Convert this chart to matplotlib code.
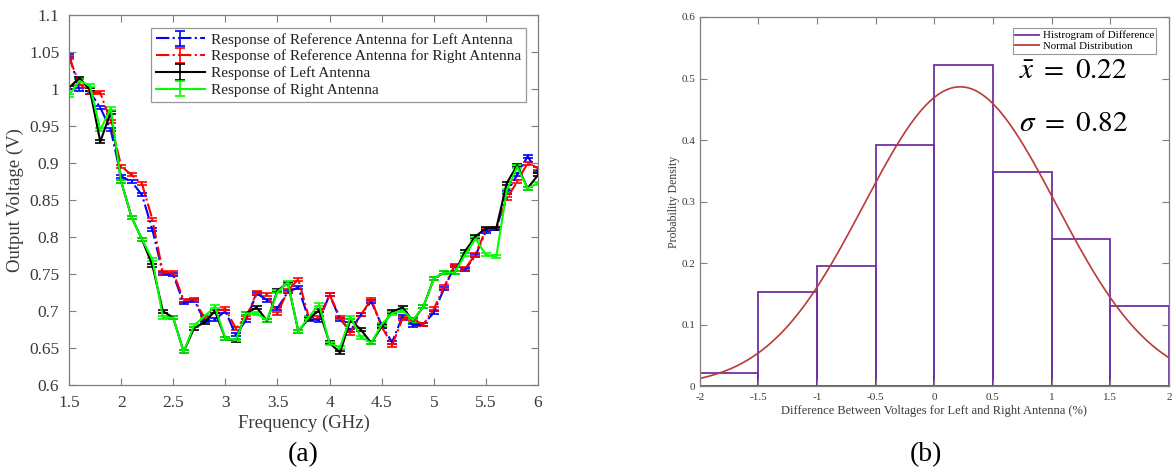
import numpy as np
import matplotlib
matplotlib.use("Agg")
import matplotlib.pyplot as plt
from matplotlib.lines import Line2D
from matplotlib.ticker import FixedLocator, FuncFormatter

# measured output voltage vs frequency (GHz)
freq = [1.5, 1.6, 1.7, 1.8, 1.9, 2.0, 2.1, 2.2, 2.3, 2.4, 2.5, 2.6, 2.7, 2.8, 2.9, 3.0,
        3.1, 3.2, 3.3, 3.4, 3.5, 3.6, 3.7, 3.8, 3.9, 4.0, 4.1, 4.2, 4.3, 4.4, 4.5, 4.6,
        4.7, 4.8, 4.9, 5.0, 5.1, 5.2, 5.3, 5.4, 5.5, 5.6, 5.7, 5.8, 5.9, 6.0]
ref_left = [1.046, 0.999, 0.996, 0.975, 0.945, 0.882, 0.875, 0.857, 0.810, 0.751, 0.749, 0.711,
            0.715, 0.687, 0.689, 0.700, 0.668, 0.688, 0.724, 0.715, 0.704, 0.726, 0.732, 0.689,
            0.688, 0.722, 0.689, 0.674, 0.695, 0.713, 0.681, 0.658, 0.693, 0.681, 0.682, 0.698,
            0.731, 0.761, 0.756, 0.775, 0.808, 0.811, 0.860, 0.884, 0.909, 0.888]
ref_right = [1.043, 1.007, 0.996, 0.995, 0.956, 0.896, 0.884, 0.872, 0.824, 0.752, 0.752, 0.715,
             0.716, 0.691, 0.700, 0.703, 0.677, 0.692, 0.725, 0.722, 0.697, 0.728, 0.743, 0.692,
             0.692, 0.722, 0.692, 0.670, 0.695, 0.716, 0.679, 0.654, 0.690, 0.689, 0.682, 0.703,
             0.733, 0.762, 0.757, 0.777, 0.810, 0.812, 0.852, 0.875, 0.900, 0.893]
left_ant = [1.002, 1.015, 0.999, 0.929, 0.969, 0.875, 0.827, 0.797, 0.762, 0.700, 0.691, 0.645,
            0.677, 0.685, 0.700, 0.663, 0.660, 0.697, 0.705, 0.687, 0.728, 0.738, 0.673, 0.690,
            0.701, 0.657, 0.644, 0.688, 0.675, 0.657, 0.679, 0.699, 0.705, 0.687, 0.706, 0.744,
            0.752, 0.752, 0.781, 0.801, 0.812, 0.812, 0.873, 0.897, 0.866, 0.884]
right_ant = [0.992, 1.011, 1.005, 0.945, 0.974, 0.875, 0.827, 0.797, 0.770, 0.692, 0.691, 0.645,
             0.681, 0.693, 0.706, 0.663, 0.661, 0.697, 0.697, 0.688, 0.726, 0.739, 0.673, 0.692,
             0.709, 0.656, 0.651, 0.692, 0.665, 0.657, 0.682, 0.697, 0.701, 0.688, 0.706, 0.744,
             0.752, 0.752, 0.776, 0.798, 0.776, 0.774, 0.863, 0.895, 0.866, 0.873]
err = 0.002

# histogram of left/right difference (%)
bin_edges = [-2.0, -1.5, -1.0, -0.5, 0.0, 0.5, 1.0, 1.5, 2.0]
bin_counts = [1, 7, 9, 18, 24, 16, 11, 6]
mean_diff = 0.22
std_diff = 0.82

serif = ["Liberation Serif", "DejaVu Serif"]
plt.rcParams["font.family"] = serif
plt.rcParams["xtick.direction"] = "in"
plt.rcParams["ytick.direction"] = "in"

gray = "#7f7f7f"
txt = "#3a3a3a"
hist_col = "#7030a0"
pdf_col = "#b83a3a"


def matlab_box(ax, size, xpad, ypad):
    for s in ax.spines.values():
        s.set_color(gray)
        s.set_linewidth(0.9)
    ax.tick_params(which="both", top=True, right=True, colors=gray,
                   labelcolor=txt, labelsize=size, length=5, width=0.8)
    ax.tick_params(axis="x", pad=xpad)
    ax.tick_params(axis="y", pad=ypad)
    ax.xaxis.set_major_formatter(FuncFormatter(lambda v, p: "%g" % v))
    ax.yaxis.set_major_formatter(FuncFormatter(lambda v, p: "%g" % v))


fig = plt.figure(figsize=(11.76, 4.72), dpi=100)

# (a) frequency response
ax1 = fig.add_axes([0.0587, 0.184, 0.3988, 0.784])
series = [
    (ref_left, "b", "-.", "Response of Reference Antenna for Left Antenna"),
    (ref_right, "r", "-.", "Response of Reference Antenna for Right Antenna"),
    (left_ant, "k", "-", "Response of Left Antenna"),
    (right_ant, "#00ff00", "-", "Response of Right Antenna"),
]
for vals, col, ls, lab in series:
    ax1.errorbar(freq, vals, yerr=err, color=col, linestyle=ls, linewidth=1.5,
                 capsize=3.5, elinewidth=1.2, capthick=1.2, label=lab)
ax1.set_xlim(1.5, 6)
ax1.set_ylim(0.6, 1.1)
ax1.xaxis.set_major_locator(FixedLocator(np.arange(1.5, 6.01, 0.5)))
ax1.yaxis.set_major_locator(FixedLocator(np.round(np.arange(0.6, 1.101, 0.05), 2)))
matlab_box(ax1, 12.5, 7, 7)
ax1.set_xlabel("Frequency (GHz)", fontsize=13.5, color=txt, labelpad=3)
ax1.set_ylabel("Output Voltage (V)", fontsize=13.5, color=txt, labelpad=4)
leg = ax1.legend(loc="upper right", bbox_to_anchor=(0.99, 0.985), fontsize=11,
                 frameon=True, fancybox=False, edgecolor=gray, handlelength=3.2,
                 borderpad=0.3, labelspacing=0.2, handletextpad=0.4)
leg.get_frame().set_linewidth(0.9)
for t in leg.get_texts():
    t.set_color("#222222")
fig.text(0.258, 0.036, "(a)", fontsize=20, ha="center", va="center")

# (b) distribution of the difference
ax2 = fig.add_axes([0.595, 0.182, 0.399, 0.782])
counts = np.array(bin_counts, dtype=float)
edges = np.array(bin_edges)
widths = np.diff(edges)
density = counts / (counts.sum() * widths)
ax2.bar(edges[:-1], density, width=widths, align="edge", fill=False,
        edgecolor=hist_col, linewidth=1.3)
xs = np.linspace(-2, 2, 300)
pdf = np.exp(-0.5 * ((xs - mean_diff) / std_diff) ** 2) / (std_diff * np.sqrt(2 * np.pi))
ax2.plot(xs, pdf, color=pdf_col, linewidth=1.2)
ax2.set_xlim(-2, 2)
ax2.set_ylim(0, 0.6)
ax2.xaxis.set_major_locator(FixedLocator(np.arange(-2, 2.01, 0.5)))
ax2.yaxis.set_major_locator(FixedLocator(np.round(np.arange(0, 0.61, 0.1), 1)))
matlab_box(ax2, 8, 5, 3)
ax2.set_xlabel("Difference Between Voltages for Left and Right Antenna (%)",
               fontsize=9, color=txt, labelpad=2)
ax2.set_ylabel("Probability Density", fontsize=8.5, color=txt, labelpad=1)
handles = [Line2D([], [], color=hist_col, linewidth=1.3),
           Line2D([], [], color=pdf_col, linewidth=1.3)]
leg2 = ax2.legend(handles, ["Histrogram of Difference", "Normal Distribution"],
                  loc="upper right", bbox_to_anchor=(0.985, 0.985), fontsize=7.8,
                  frameon=True, fancybox=False, edgecolor=gray, handlelength=2.2,
                  borderpad=0.25, labelspacing=0.1, handletextpad=0.3)
leg2.get_frame().set_linewidth(0.8)
ax2.text(0.68, 0.855, r"$\bar{x}\ =\ %.2f$" % mean_diff, transform=ax2.transAxes,
         fontsize=21, math_fontfamily="stix", va="center", ha="left")
ax2.text(0.68, 0.71, r"$\sigma\ =\ %.2f$" % std_diff, transform=ax2.transAxes,
         fontsize=21, math_fontfamily="stix", va="center", ha="left")
fig.text(0.787, 0.036, "(b)", fontsize=20, ha="center", va="center")

fig.savefig("out.png", dpi=100)
